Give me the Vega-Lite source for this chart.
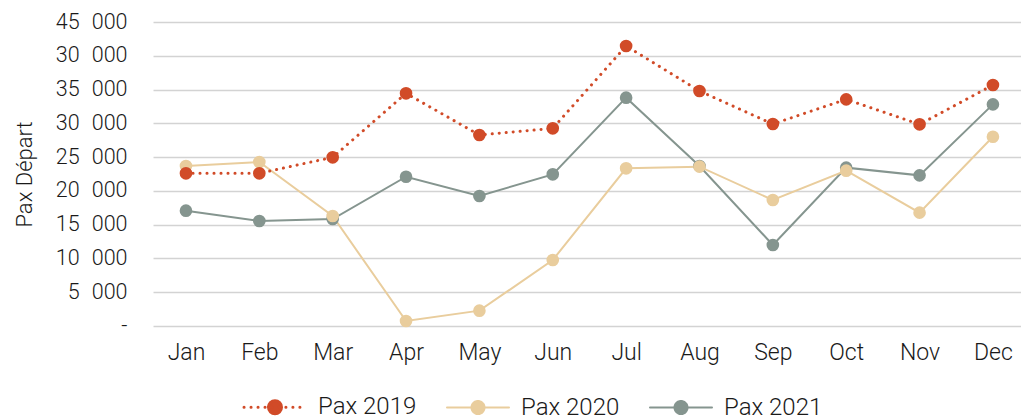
{
  "$schema": "https://vega.github.io/schema/vega-lite/v6.json",
  "width": 868,
  "height": 304,
  "autosize": {"type": "none"},
  "padding": {"left": 153, "top": 22, "right": 0, "bottom": 94},
  "background": "white",
  "config": {"view": {"stroke": null}, "font": "Roboto"},
  "data": {
    "values": [
      {"month": "Jan", "series": "Pax 2021", "value": 17070},
      {"month": "Feb", "series": "Pax 2021", "value": 15540},
      {"month": "Mar", "series": "Pax 2021", "value": 15840},
      {"month": "Apr", "series": "Pax 2021", "value": 22100},
      {"month": "May", "series": "Pax 2021", "value": 19240},
      {"month": "Jun", "series": "Pax 2021", "value": 22450},
      {"month": "Jul", "series": "Pax 2021", "value": 33800},
      {"month": "Aug", "series": "Pax 2021", "value": 23680},
      {"month": "Sep", "series": "Pax 2021", "value": 11990},
      {"month": "Oct", "series": "Pax 2021", "value": 23440},
      {"month": "Nov", "series": "Pax 2021", "value": 22300},
      {"month": "Dec", "series": "Pax 2021", "value": 32810},
      {"month": "Jan", "series": "Pax 2020", "value": 23680},
      {"month": "Feb", "series": "Pax 2020", "value": 24270},
      {"month": "Mar", "series": "Pax 2020", "value": 16280},
      {"month": "Apr", "series": "Pax 2020", "value": 740},
      {"month": "May", "series": "Pax 2020", "value": 2270},
      {"month": "Jun", "series": "Pax 2020", "value": 9770},
      {"month": "Jul", "series": "Pax 2020", "value": 23340},
      {"month": "Aug", "series": "Pax 2020", "value": 23590},
      {"month": "Sep", "series": "Pax 2020", "value": 18650},
      {"month": "Oct", "series": "Pax 2020", "value": 22990},
      {"month": "Nov", "series": "Pax 2020", "value": 16780},
      {"month": "Dec", "series": "Pax 2020", "value": 28020},
      {"month": "Jan", "series": "Pax 2019", "value": 22600},
      {"month": "Feb", "series": "Pax 2019", "value": 22600},
      {"month": "Mar", "series": "Pax 2019", "value": 24970},
      {"month": "Apr", "series": "Pax 2019", "value": 34440},
      {"month": "May", "series": "Pax 2019", "value": 28270},
      {"month": "Jun", "series": "Pax 2019", "value": 29260},
      {"month": "Jul", "series": "Pax 2019", "value": 41450},
      {"month": "Aug", "series": "Pax 2019", "value": 34790},
      {"month": "Sep", "series": "Pax 2019", "value": 29900},
      {"month": "Oct", "series": "Pax 2019", "value": 33550},
      {"month": "Nov", "series": "Pax 2019", "value": 29850},
      {"month": "Dec", "series": "Pax 2019", "value": 35670}
    ]
  },
  "encoding": {
    "x": {
      "field": "month",
      "type": "ordinal",
      "sort": ["Jan", "Feb", "Mar", "Apr", "May", "Jun", "Jul", "Aug", "Sep", "Oct", "Nov", "Dec"],
      "scale": {"type": "point", "padding": 0.416, "align": 0.54},
      "axis": {
        "title": null,
        "grid": false,
        "ticks": false,
        "domain": false,
        "labelAngle": 0,
        "labelPadding": 15,
        "labelFont": "Roboto",
        "labelFontSize": 23,
        "labelFontWeight": 300,
        "labelColor": "#1a1a1a"
      }
    },
    "y": {
      "field": "value",
      "type": "quantitative",
      "scale": {"domain": [0, 45000], "nice": false},
      "axis": {
        "values": [0, 5000, 10000, 15000, 20000, 25000, 30000, 35000, 40000, 45000],
        "labelExpr": "datum.value === 0 ? '-' : (datum.value === 40000 ? '30\u2007000' : replace(format(datum.value, ','), ',', '\u2007'))",
        "grid": true,
        "gridColor": "#d3d3d3",
        "gridWidth": 1.5,
        "ticks": false,
        "domain": false,
        "labelPadding": 26,
        "labelFont": "Roboto",
        "labelFontSize": 21.5,
        "labelFontWeight": 300,
        "labelColor": "#1a1a1a",
        "title": "Pax Départ",
        "titleFont": "Roboto",
        "titleFontSize": 22,
        "titleFontWeight": 300,
        "titleColor": "#1a1a1a",
        "titlePadding": 19
      }
    },
    "color": {
      "field": "series",
      "type": "nominal",
      "scale": {
        "domain": ["Pax 2019", "Pax 2020", "Pax 2021"],
        "range": ["#d14b28", "#e9cd9d", "#85958f"]
      },
      "legend": {
        "orient": "none",
        "legendX": 110,
        "legendY": 373,
        "direction": "horizontal",
        "title": null,
        "symbolType": "M-1,0H-0.21A0.21,0.21,0,1,1,0.21,0A0.21,0.21,0,1,1,-0.21,0H1",
        "symbolSize": 3844,
        "labelFont": "Roboto",
        "labelFontSize": 24,
        "labelFontWeight": 300,
        "labelColor": "#1a1a1a",
        "labelOffset": 31,
        "columnPadding": 26,
        "labelLimit": 300,
        "encode": {
          "symbols": {
            "update": {
              "fill": {"signal": "scale('color', datum.value)"},
              "stroke": {"signal": "scale('color', datum.value)"},
              "strokeWidth": {"signal": "datum.value === 'Pax 2019' ? 3 : 2"},
              "strokeDash": {"signal": "datum.value === 'Pax 2019' ? [0.1, 6.9, 0.1, 6.9, 0.1, 6.9, 0.1, 3.4, 41, 3, 0.1, 6.9, 0.1, 6.9, 0.1, 6.9, 0.1, 6.9, 0.1, 6.9, 0.1, 30] : [1, 0]"},
              "strokeCap": {"value": "round"},
              "opacity": {"value": 1}
            }
          }
        }
      }
    }
  },
  "layer": [
    {
      "transform": [{"filter": "datum.series !== 'Pax 2019'"}],
      "mark": {"type": "line", "strokeWidth": 2}
    },
    {
      "transform": [{"filter": "datum.series === 'Pax 2019'"}],
      "mark": {"type": "line", "strokeWidth": 3, "strokeDash": [0.1, 6.9], "strokeCap": "round"}
    },
    {
      "mark": {"type": "point", "filled": true, "size": 160, "opacity": 1}
    }
  ]
}
